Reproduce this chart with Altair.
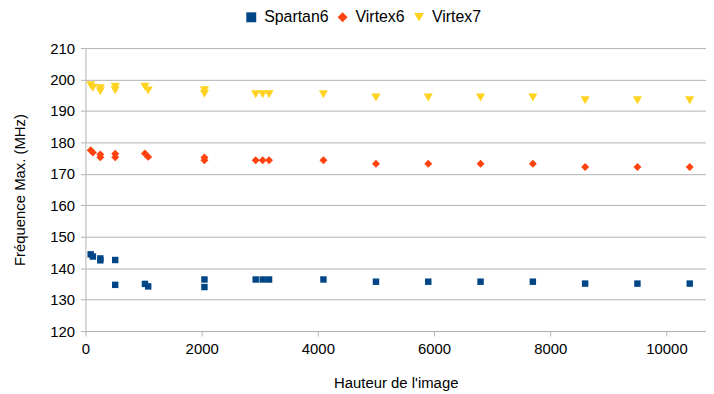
import altair as alt
import pandas as pd

series_names = ["Spartan6", "Virtex6", "Virtex7"]
series_sizes = [42, 64, 85]

x_values = [90, 128, 256, 256, 512, 512, 1024, 1080, 2048, 2048, 2930, 3050, 3160,
            4096, 5000, 5900, 6800, 7700, 8600, 9500, 10400]

spartan6 = [144.4, 143.7, 143.1, 142.5, 142.6, 134.7, 135.0, 134.2, 136.4, 134.0, 136.4,
            136.4, 136.4, 136.4, 135.7, 135.7, 135.7, 135.7, 135.1, 135.1, 135.1]
virtex6 = [177.5, 176.8, 176.2, 175.3, 176.4, 175.3, 176.5, 175.4, 175.2, 174.3, 174.3,
           174.3, 174.3, 174.3, 173.2, 173.2, 173.2, 173.2, 172.2, 172.2, 172.2]
virtex7 = [198.2, 197.4, 197.2, 196.3, 197.7, 196.6, 197.7, 196.5, 196.6, 195.5, 195.3,
           195.3, 195.3, 195.3, 194.3, 194.3, 194.3, 194.3, 193.4, 193.4, 193.4]

x_ticks = [0, 2000, 4000, 6000, 8000, 10000]
y_ticks = [120, 130, 140, 150, 160, 170, 180, 190, 200, 210]

rows = []
for name, vals in zip(series_names, [spartan6, virtex6, virtex7]):
    for xv, yv in zip(x_values, vals):
        rows.append({"serie": name, "x": xv, "y": yv})
df = pd.DataFrame(rows)

FONT = "Liberation Sans"
GRID = "#b3b3b3"

legend = alt.Legend(title=None, orient="none", direction="horizontal",
                    legendX=159, legendY=-39, symbolSize=100,
                    labelFontSize=16, labelFont=FONT, labelColor="black",
                    columnPadding=6, labelOffset=5, padding=0)

base = alt.Chart(df).encode(
    x=alt.X("x:Q",
            scale=alt.Scale(domain=[0, 10680], nice=False, zero=False),
            axis=alt.Axis(values=x_ticks, title="Hauteur de l'image", grid=False,
                          format="d", labelPadding=6, titlePadding=19, labelFlush=False)),
    y=alt.Y("y:Q",
            scale=alt.Scale(domain=[120, 210], nice=False, zero=False),
            axis=alt.Axis(values=y_ticks, title="Fréquence Max. (MHz)", grid=True,
                          labelPadding=6, titlePadding=22, labelFlush=False)),
    color=alt.Color("serie:N",
                    scale=alt.Scale(domain=series_names,
                                    range=["#004586", "#ff420e", "#ffd320"]),
                    legend=legend),
    shape=alt.Shape("serie:N",
                    scale=alt.Scale(domain=series_names,
                                    range=["square", "diamond", "triangle-down"]),
                    legend=legend),
)

# legend-defining layer (draws no data points; sets legend symbol size)
legend_layer = base.mark_point(filled=True, opacity=1, size=100).transform_filter("false")

layers = [legend_layer] + [
    base.mark_point(filled=True, opacity=1, size=sz).transform_filter(
        alt.datum.serie == name)
    for name, sz in zip(series_names, series_sizes)
]

chart = alt.layer(*layers).properties(
    width=625, height=285,
    autosize=alt.AutoSizeParams(type="none"),
    padding={"left": 78, "top": 39, "right": 0, "bottom": 60},
).configure_axis(
    labelFont=FONT, labelFontSize=15, labelColor="black",
    titleFont=FONT, titleFontSize=15, titleColor="black", titleFontWeight="normal",
    domainColor=GRID, tickColor=GRID, gridColor=GRID, tickSize=5,
    domainWidth=1, tickWidth=1, gridWidth=1,
).configure_view(stroke=None)

chart.save("out.html", embed_options={"renderer": "svg", "actions": False})
